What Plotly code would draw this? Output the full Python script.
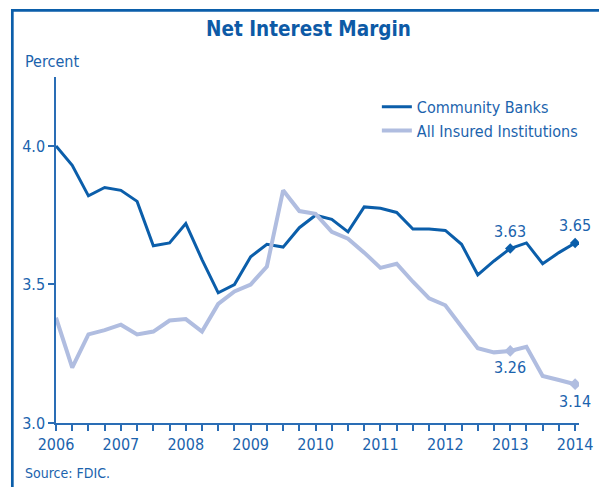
import plotly.graph_objects as go

# ---- data (quarterly, 2006Q1 .. 2014Q1) ----
quarters = [2006 + q / 4 for q in range(33)]
community_banks = [4.00, 3.93, 3.82, 3.85, 3.84, 3.80, 3.64, 3.65, 3.72, 3.59,
                   3.47, 3.50, 3.60, 3.645, 3.635, 3.705, 3.75, 3.735, 3.69, 3.78,
                   3.775, 3.76, 3.70, 3.70, 3.695, 3.645, 3.535, 3.585, 3.63, 3.65,
                   3.575, 3.615, 3.65]
all_insured = [3.38, 3.20, 3.32, 3.335, 3.355, 3.32, 3.33, 3.37, 3.375, 3.33,
               3.43, 3.475, 3.50, 3.565, 3.84, 3.765, 3.755, 3.69, 3.665, 3.615,
               3.56, 3.575, 3.51, 3.45, 3.425, 3.35, 3.27, 3.255, 3.26, 3.275,
               3.17, 3.155, 3.14]
marked_idx = [28, 32]  # 2013Q1 and 2014Q1
year_ticks = [2006, 2007, 2008, 2009, 2010, 2011, 2012, 2013, 2014]
y_ticks = [3.0, 3.5, 4.0]

DARK = "#0b5eaa"
LIGHT = "#b0bde0"
TEXT = "#1b63ad"
AXIS = "#2a6db5"
FONT = "DejaVu Sans Condensed, Liberation Sans Narrow, sans-serif"
FS = 16

fig = go.Figure()
fig.add_trace(go.Scatter(x=quarters, y=community_banks, mode="lines",
                         name="Community Banks",
                         line=dict(color=DARK, width=3)))
fig.add_trace(go.Scatter(x=quarters, y=all_insured, mode="lines",
                         name="All Insured Institutions",
                         line=dict(color=LIGHT, width=4)))
fig.add_trace(go.Scatter(x=[quarters[i] for i in marked_idx],
                         y=[community_banks[i] for i in marked_idx],
                         mode="markers", showlegend=False,
                         marker=dict(symbol="diamond", size=8, color=DARK)))
fig.add_trace(go.Scatter(x=[quarters[i] for i in marked_idx],
                         y=[all_insured[i] for i in marked_idx],
                         mode="markers", showlegend=False,
                         marker=dict(symbol="diamond", size=9, color=LIGHT)))

annotations = []
for i in marked_idx:
    annotations.append(dict(x=quarters[i], y=community_banks[i], xref="x", yref="y",
                            text=f"{community_banks[i]:.2f}", showarrow=False,
                            yshift=17, font=dict(size=FS, color=TEXT, family=FONT)))
    annotations.append(dict(x=quarters[i], y=all_insured[i], xref="x", yref="y",
                            text=f"{all_insured[i]:.2f}", showarrow=False,
                            yshift=-17, font=dict(size=FS, color=TEXT, family=FONT)))
annotations.append(dict(x=-0.0631, y=1.0462, xref="paper", yref="paper",
                        xanchor="left", yanchor="middle", text="Percent",
                        showarrow=False, font=dict(size=FS, color=TEXT, family=FONT)))
annotations.append(dict(x=-0.0626, y=-0.1454, xref="paper", yref="paper",
                        xanchor="left", yanchor="middle", text="Source: FDIC.",
                        showarrow=False, font=dict(size=14, color=TEXT, family=FONT)))

fig.update_layout(
    width=599, height=487,
    margin=dict(l=56, r=20, t=77, b=64),
    paper_bgcolor="white", plot_bgcolor="white",
    title=dict(text="<b>Net Interest Margin</b>", xref="container", yref="container",
               x=0.515, y=1 - 29 / 487, xanchor="center", yanchor="middle",
               font=dict(size=20.5, color="#0d5aa6", family=FONT)),
    font=dict(family=FONT, color=TEXT, size=FS),
    legend=dict(x=0.6135, y=0.963, xanchor="left", yanchor="top",
                bgcolor="rgba(0,0,0,0)", font=dict(size=FS, color=TEXT, family=FONT),
                tracegroupgap=0),
    annotations=annotations,
    shapes=[dict(type="rect", xref="paper", yref="paper",
                 x0=-0.0835, x1=1.08, y0=-0.25, y1=1.1925,
                 line=dict(color=DARK, width=2.7), layer="below")],
    xaxis=dict(range=[2006, 2014.06], tickvals=year_ticks, ticktext=[str(y) for y in year_ticks],
               automargin=False,
               showgrid=False, zeroline=False, showline=True, linecolor=AXIS, linewidth=1.5,
               ticks="outside", ticklen=6, tickwidth=1.5, tickcolor=AXIS,
               minor=dict(dtick=0.25, tick0=2006, ticks="outside", ticklen=6,
                          tickwidth=1.5, tickcolor=AXIS, showgrid=False),
               tickfont=dict(size=FS, color=TEXT, family=FONT)),
    yaxis=dict(range=[3.0, 4.249], tickvals=y_ticks, ticktext=[f"{v:.1f}" for v in y_ticks],
               automargin=False,
               showgrid=False, zeroline=False, showline=True, linecolor=AXIS, linewidth=1.5,
               ticks="outside", ticklen=6, tickwidth=1.5, tickcolor=AXIS,
               tickfont=dict(size=FS, color=TEXT, family=FONT)),
)

fig.write_html("out.html", config={"displayModeBar": False},
               post_script="document.body.style.margin='0';")
